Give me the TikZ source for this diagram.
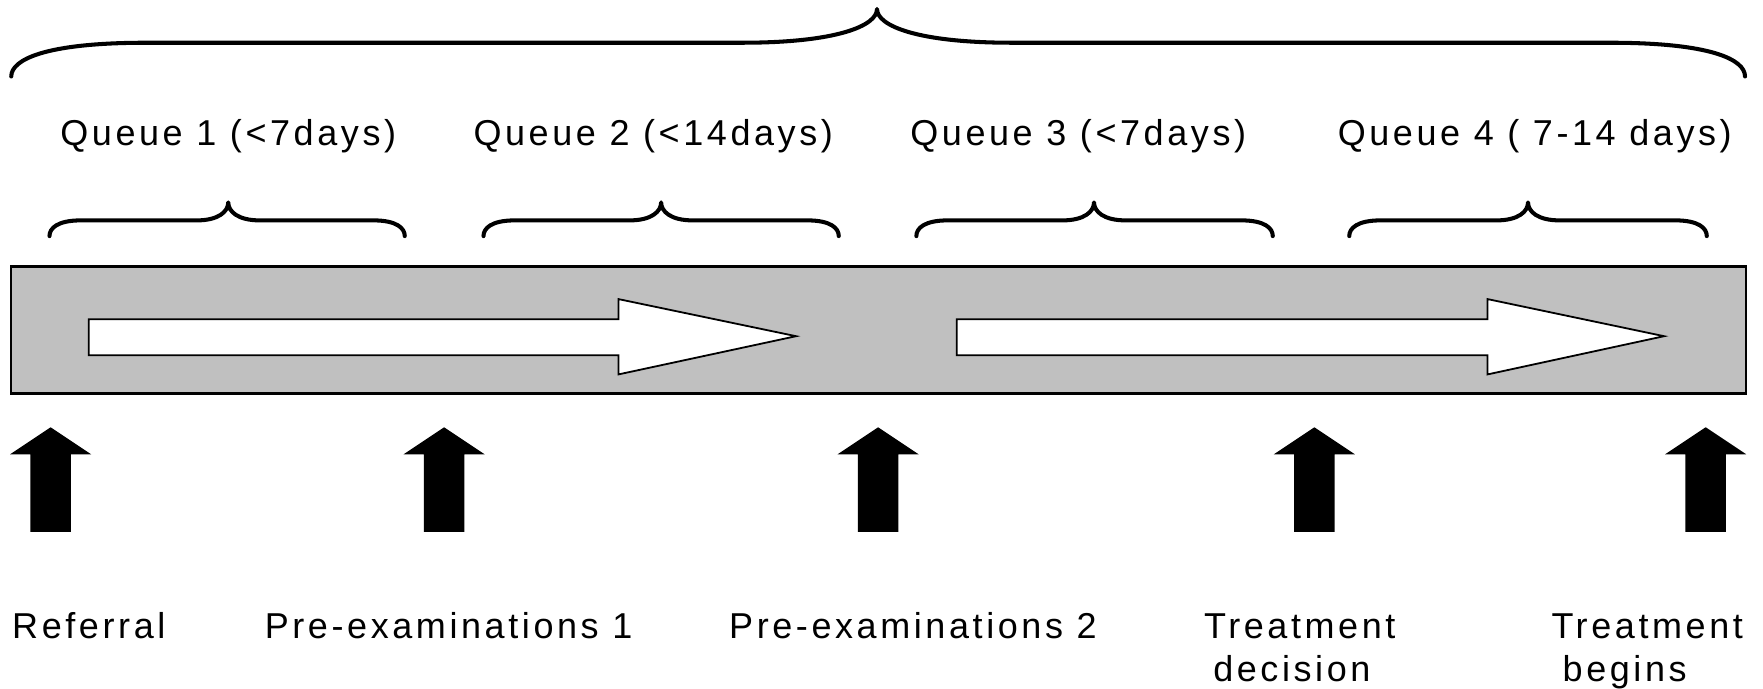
\documentclass[tikz,border=0pt]{standalone}
\usepackage{fontspec}
\setmainfont{Liberation Sans}[LetterSpace=10]
\definecolor{bargray}{HTML}{C0C0C0}
\newcommand\mybrace[7]{%
  \draw[bracestyle] (#1,#4) .. controls (#1,{#4-0.5*(#4-#5)}) and ({#1+0.25*#7},#5) .. ({#1+#7},#5)
    -- ({#3-#7},#5) .. controls ({#3-0.3*#7},#5) and (#3,{#5-0.5*(#5-#6)}) .. (#3,#6)
    .. controls (#3,{#5-0.5*(#5-#6)}) and ({#3+0.3*#7},#5) .. ({#3+#7},#5)
    -- ({#2-#7},#5) .. controls ({#2-0.25*#7},#5) and (#2,{#4-0.5*(#4-#5)}) .. (#2,#4);}
\newcommand\upblk[1]{%
  \fill[black] (#1,380) -- ({#1+36},404) -- ({#1+18},404) -- ({#1+18},473) -- ({#1-18},473) -- ({#1-18},404) -- ({#1-36},404) -- cycle;}
\newcommand\whitearrow[3]{%
  \draw[warrow] (#1,284) -- (#2,284) -- (#2,266) -- (#3,299) -- (#2,333) -- (#2,316) -- (#1,316) -- cycle;}
\begin{document}
\begin{tikzpicture}[x=0.5pt,y=-0.5pt,
  bracestyle/.style={line width=1.8pt, line cap=round, line join=round},
  warrow/.style={draw=black, fill=white, line width=0.8pt, line join=miter},
  lbl/.style={font=\fontsize{16}{19}\selectfont, inner sep=0pt, align=center}]
\useasboundingbox (0,0) rectangle (1568,612);
% big brace
\mybrace{10}{1552}{780}{68}{38}{8}{120}
% queue labels
\node[lbl] (q1) at (203,121) {Queue 1 (<7days)};
\node[lbl] (q2) at (581,121) {Queue 2 (<14days)};
\node[lbl] (q3) at (959,121) {Queue 3 (<7days)};
\node[lbl] (q4) at (1365,121) {Queue 4 ( 7-14 days)};
% small braces
\mybrace{44}{360}{203}{210}{196}{180}{28}
\mybrace{430}{746}{588}{210}{196}{180}{28}
\mybrace{815}{1132}{973}{210}{196}{180}{28}
\mybrace{1200}{1518}{1359}{210}{196}{180}{28}
% gray bar
\draw[fill=bargray, line width=1pt] (10,237) rectangle (1553,350);
\whitearrow{79}{550}{708}
\whitearrow{851}{1323}{1480}
% black arrows
\upblk{45}
\upblk{395}
\upblk{781}
\upblk{1169}
\upblk{1517}
% bottom labels
\node[lbl, anchor=base] (l1) at (79,568) {Referral};
\node[lbl, anchor=base] (l2) at (399,568) {Pre-examinations 1};
\node[lbl, anchor=base] (l3) at (812,568) {Pre-examinations 2};
\node[lbl, anchor=base] (l4a) at (1156,568) {Treatment};
\node[lbl, anchor=base] (l4b) at (1149,606) {decision};
\node[lbl, anchor=base] (l5a) at (1465,568) {Treatment};
\node[lbl, anchor=base] (l5b) at (1445,606) {begins};
\end{tikzpicture}
\end{document}
